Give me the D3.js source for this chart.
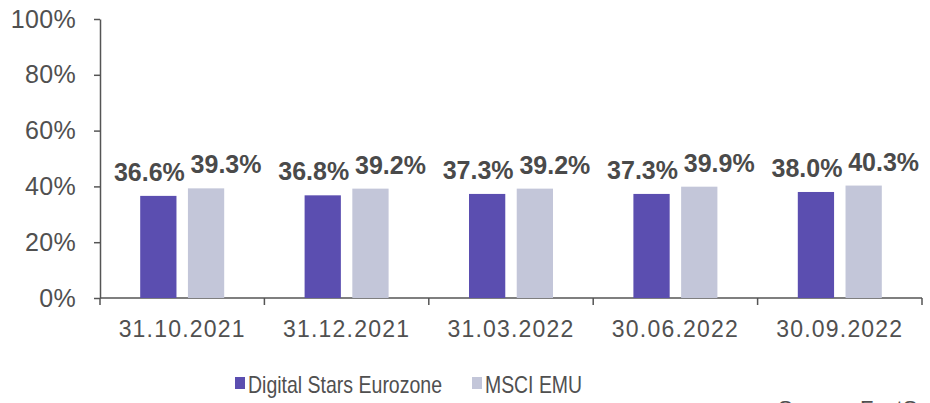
<!DOCTYPE html>
<html>
<head>
<meta charset="utf-8">
<script src="https://cdn.jsdelivr.net/npm/d3@7"></script>
<style>
  body { margin: 0; background: #fff; }
  svg { display: block; font-family: "Liberation Sans", Arial, sans-serif; }
</style>
</head>
<body>
<div id="chart"></div>
<script>
let width = 930;
let height = 403;

// data
let dates = ['31.10.2021', '31.12.2021', '31.03.2022', '30.06.2022', '30.09.2022'];
let seriesNames = ['Digital Stars Eurozone', 'MSCI EMU'];
let digitalStars = [36.6, 36.8, 37.3, 37.3, 38.0];
let msciEmu = [39.3, 39.2, 39.2, 39.9, 40.3];
let yTicks = [0, 20, 40, 60, 80, 100];

let colors = ['#5b4eb0', '#c3c6d9'];
let series = [digitalStars, msciEmu];

let margin = {top: 19, right: 8, bottom: 105, left: 100};
let plotW = width - margin.left - margin.right;
let plotH = height - margin.top - margin.bottom;

let svg = d3.select('#chart').append('svg')
    .attr('width', width)
    .attr('height', height);

let g = svg.append('g')
    .attr('transform', `translate(${margin.left},${margin.top})`);

let x = d3.scaleBand()
    .domain(dates)
    .range([0, plotW]);

let xInner = d3.scaleBand()
    .domain(seriesNames)
    .range([x.bandwidth() / 2 - 42, x.bandwidth() / 2 + 42])
    .paddingInner(0.24);

let y = d3.scaleLinear()
    .domain([0, 100])
    .range([plotH, 0]);

// y axis
let yAxis = g.append('g')
    .call(d3.axisLeft(y).tickValues(yTicks).tickFormat(d => d + '%').tickSize(6).tickSizeOuter(0));
yAxis.select('.domain').attr('stroke', '#555').attr('stroke-width', 1.5);
yAxis.selectAll('.tick line').attr('stroke', '#555').attr('stroke-width', 1.5);
yAxis.selectAll('.tick text')
    .attr('x', -24)
    .attr('fill', '#505050')
    .style('font-size', '25px')
    .style('letter-spacing', '0.3px');

// x axis
let xTickPositions = dates.map(d => x(d)).concat([plotW]);
let xAxis = g.append('g')
    .attr('transform', `translate(0,${plotH})`);
xAxis.append('line')
    .attr('x1', 0).attr('x2', plotW)
    .attr('stroke', '#555').attr('stroke-width', 1.5);
xAxis.selectAll('.xtick')
    .data(xTickPositions)
    .join('line')
    .attr('x1', d => d).attr('x2', d => d)
    .attr('y1', 0).attr('y2', 7)
    .attr('stroke', '#555').attr('stroke-width', 1.5);
xAxis.selectAll('.xlabel')
    .data(dates)
    .join('text')
    .attr('x', d => x(d) + x.bandwidth() / 2)
    .attr('y', 39)
    .attr('text-anchor', 'middle')
    .attr('fill', '#505050')
    .style('font-size', '23px')
    .style('letter-spacing', '1.2px')
    .text(d => d);

// bars
let labelShift = [-9, 20];
seriesNames.forEach((name, si) => {
    g.selectAll(`.bar${si}`)
        .data(series[si])
        .join('rect')
        .attr('x', (d, i) => x(dates[i]) + xInner(name))
        .attr('y', d => y(d))
        .attr('width', xInner.bandwidth())
        .attr('height', d => plotH - y(d))
        .attr('fill', colors[si]);

    g.selectAll(`.label${si}`)
        .data(series[si])
        .join('text')
        .attr('x', (d, i) => x(dates[i]) + xInner(name) + xInner.bandwidth() / 2 + labelShift[si])
        .attr('y', d => y(d) - 15)
        .attr('text-anchor', 'middle')
        .attr('fill', '#4a4a4a')
        .style('font-size', '25px')
        .style('font-weight', 'bold')
        .text(d => d.toFixed(1) + '%');
});

// legend
let legend = svg.append('g')
    .attr('transform', 'translate(235,377)');
let legendX = [0, 237];
let legendW = [194, 97];
seriesNames.forEach((name, i) => {
    legend.append('rect')
        .attr('x', legendX[i])
        .attr('y', 0)
        .attr('width', 10)
        .attr('height', 12)
        .attr('fill', colors[i]);
    legend.append('text')
        .attr('x', legendX[i] + 13)
        .attr('y', 16)
        .attr('fill', '#505050')
        .attr('textLength', legendW[i])
        .attr('lengthAdjust', 'spacingAndGlyphs')
        .style('font-size', '24px')
        .text(name);
});

// source note (cut off at the bottom)
svg.append('text')
    .attr('x', 778)
    .attr('y', 416)
    .attr('fill', '#505050')
    .style('font-size', '22px')
    .text('Source: FactSet');
</script>
</body>
</html>
